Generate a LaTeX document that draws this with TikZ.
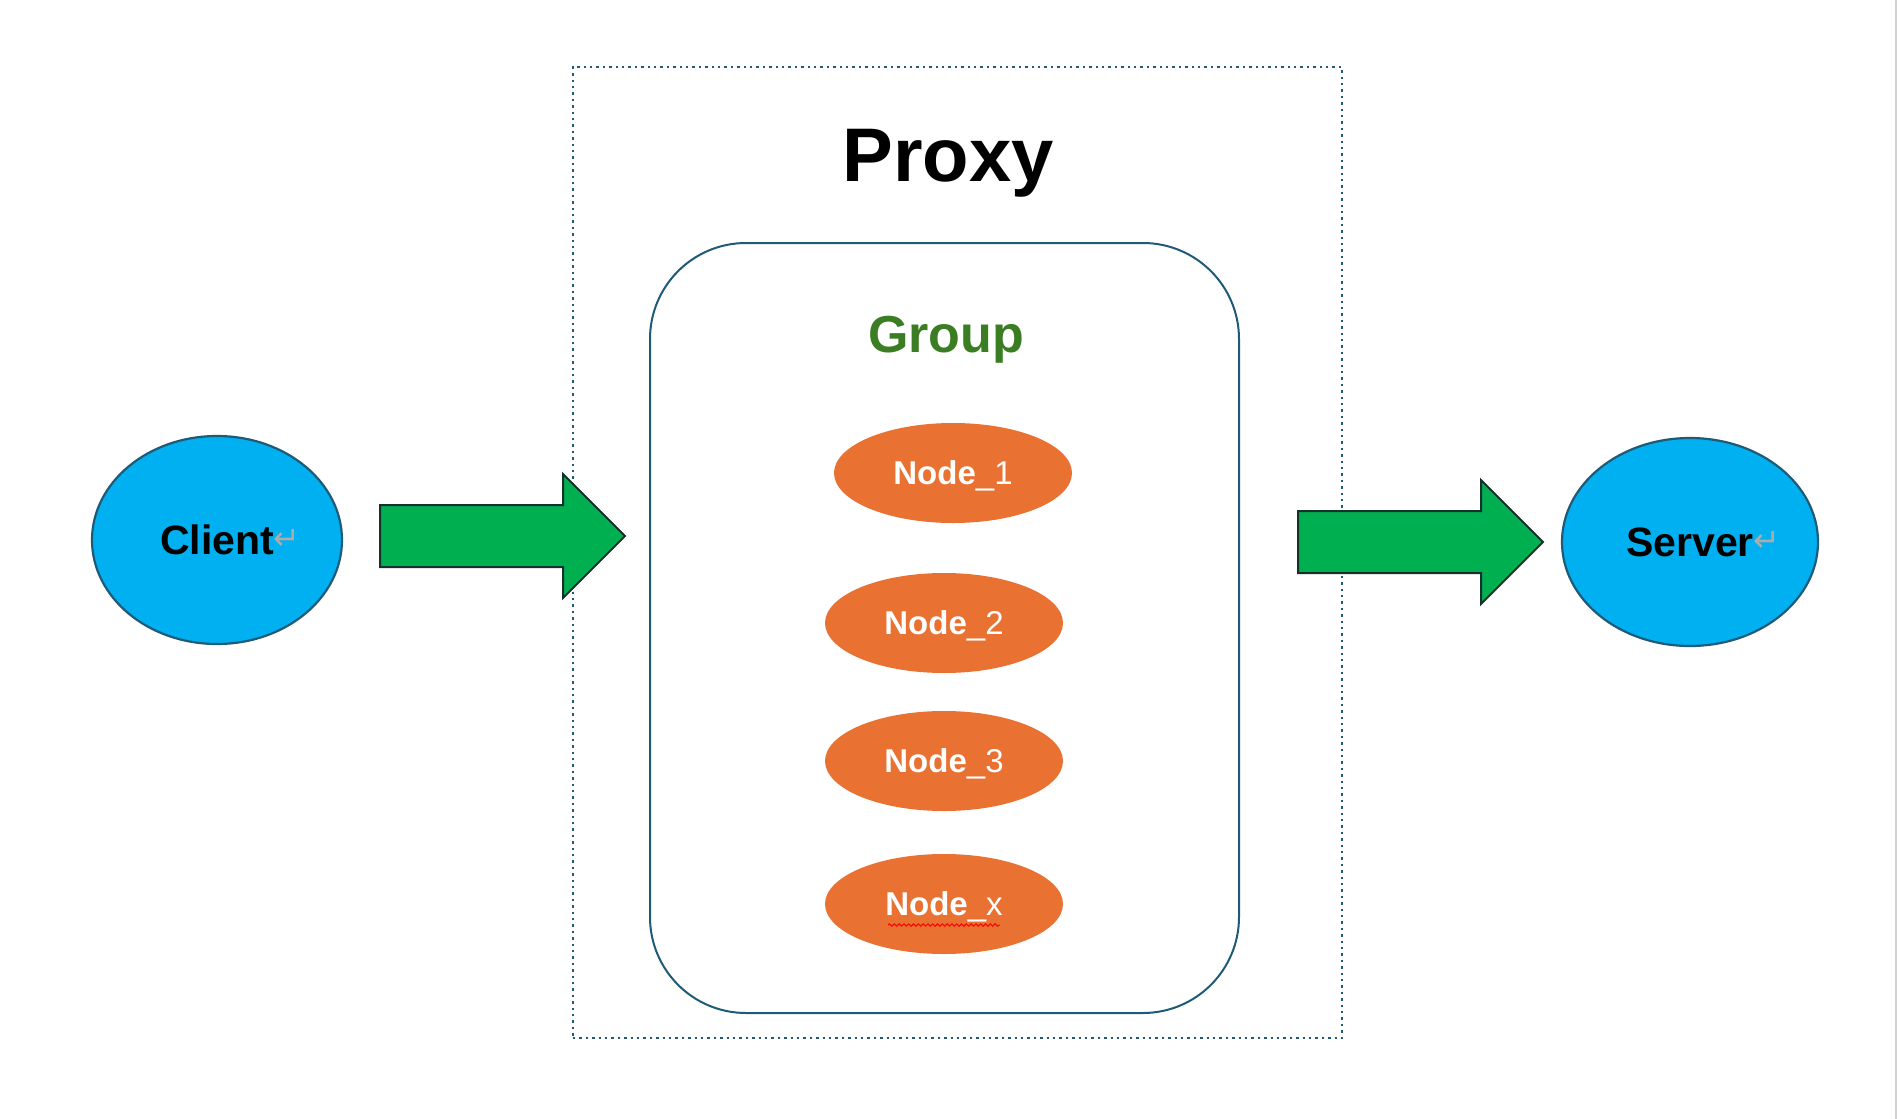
\documentclass[tikz,border=0pt]{standalone}
\usepackage{fontspec}
\setmainfont{Liberation Sans}
\newfontfamily\symfont{DejaVu Sans}
\usetikzlibrary{shapes.geometric,shapes.arrows,decorations.pathmorphing}
\definecolor{cyanfill}{HTML}{00B0F0}
\definecolor{darkteal}{HTML}{1F5A77}
\definecolor{arrowgreen}{HTML}{00B050}
\definecolor{arrowedge}{HTML}{16302C}
\definecolor{nodeorange}{HTML}{E97132}
\definecolor{groupgreen}{HTML}{3A7D22}
\newcommand{\retmark}{\rlap{\raisebox{2.5pt}{\textcolor{gray!65}{\symfont\mdseries\fontsize{16}{16}\selectfont ↵}}}}
\tikzset{
  endpoint/.style={ellipse,draw=darkteal,line width=1.1pt,fill=cyanfill,minimum height=104pt,inner sep=0pt,font=\fontsize{20.5}{24}\selectfont\bfseries},
  member/.style={ellipse,fill=nodeorange,minimum width=119pt,minimum height=50pt,inner sep=0pt,text height=12pt,text depth=1pt,text=white,font=\fontsize{16.5}{19}\selectfont},
  bigarrow/.style={single arrow,draw=arrowedge,line width=1pt,fill=arrowgreen,minimum height=122.5pt,minimum width=61pt,single arrow head extend=15.5pt,inner xsep=0pt,inner ysep=15pt,anchor=tail}
}
\begin{document}
\begin{tikzpicture}[x=0.5pt,y=-0.5pt]
\useasboundingbox (0,0) rectangle (1897,1119);
\draw[gray!35,line width=1pt] (1895.5,0) -- (1895.5,1119);
\node[draw=darkteal,dotted,line width=1.2pt,minimum width=384.5pt,minimum height=485.5pt] (proxybox) at (957.5,552.5) {};
\node[anchor=base] (proxy) at (948,181) {\fontsize{38}{46}\selectfont\bfseries Proxy};
\node[draw=darkteal,line width=1pt,rounded corners=48pt,minimum width=294.5pt,minimum height=385pt] (groupbox) at (944.5,628) {};
\node[anchor=base,text=groupgreen] (group) at (946,352) {\fontsize{26}{32}\selectfont\bfseries Group};
\foreach \k/\x/\y in {1/953/473,2/944/623,3/944/761,x/944/904}
  \node[member] (node\k) at (\x,\y) {\textbf{Node}\_\k};
\draw[red,line width=0.5pt,decorate,decoration={snake,amplitude=0.6pt,segment length=2.4pt}] ([shift={(-56,21)}]nodex.center) -- ([shift={(56,21)}]nodex.center);
\node[endpoint,minimum width=125pt] (client) at (217,540) {Client\retmark};
\node[endpoint,minimum width=128pt] (server) at (1690,542) {Server\retmark};
\node[bigarrow] (inarrow) at (379,536) {};
\node[bigarrow] (outarrow) at (1297,542) {};
\end{tikzpicture}
\end{document}
